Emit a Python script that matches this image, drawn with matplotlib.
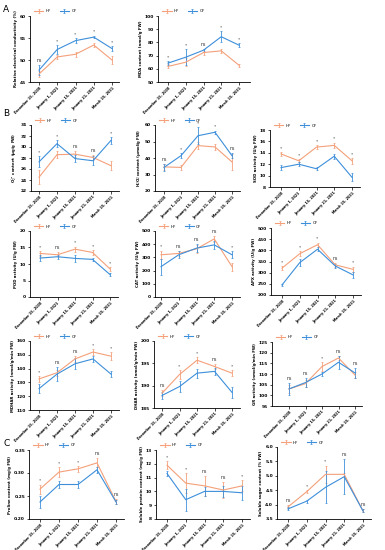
import matplotlib
matplotlib.use("Agg")
import matplotlib.pyplot as plt

plt.rcParams['font.family'] = ['DejaVu Sans']

HF_COLOR = '#F4A07A'
CF_COLOR = '#3D8FDA'

dates = ["December 15, 2020", "January 1, 2021", "January 15, 2021",
         "January 21, 2021", "March 15, 2021"]

# ---- data (means, errors, significance) ----
rec_hf = [46.8, 50.7, 51.3, 53.4, 50.0]
rec_hf_err = [0.6, 0.5, 0.6, 0.5, 0.8]
rec_cf = [47.7, 52.4, 54.4, 55.2, 52.6]
rec_cf_err = [1.2, 1.0, 0.5, 0.3, 0.5]
rec_sig = ["ns", "*", "*", "*", "*"]

mda_hf = [61.8, 65.0, 72.3, 73.6, 62.7]
mda_hf_err = [1.5, 3.0, 1.5, 1.5, 1.0]
mda_cf = [64.3, 68.8, 74.1, 84.3, 77.9]
mda_cf_err = [1.5, 6.0, 1.0, 4.0, 1.5]
mda_sig = ["*", "*", "ns", "*", "*"]

o2_hf = [24.5, 28.6, 28.7, 28.1, 26.6]
o2_hf_err = [1.3, 0.6, 0.6, 0.5, 0.8]
o2_cf = [27.3, 30.6, 27.9, 27.5, 31.2]
o2_cf_err = [1.0, 0.6, 0.7, 0.8, 0.6]
o2_sig = ["*", "*", "ns", "ns", "*"]

h2o2_hf = [34.6, 34.3, 47.5, 46.7, 37.6]
h2o2_hf_err = [2.0, 1.5, 2.0, 2.0, 5.0]
h2o2_cf = [34.3, 41.4, 53.5, 55.6, 41.4]
h2o2_cf_err = [2.0, 1.5, 5.0, 1.0, 1.5]
h2o2_sig = ["ns", "*", "*", "*", "ns"]

sod_hf = [13.8, 12.6, 15.0, 15.3, 12.6]
sod_hf_err = [0.3, 0.3, 0.3, 0.5, 0.5]
sod_cf = [11.4, 12.0, 11.2, 13.4, 9.7]
sod_cf_err = [0.4, 0.3, 0.3, 0.4, 0.7]
sod_sig = ["*", "*", "*", "*", "*"]

pod_hf = [13.2, 12.8, 14.5, 13.5, 8.5]
pod_hf_err = [0.7, 0.7, 0.8, 0.7, 0.5]
pod_cf = [11.8, 12.2, 11.7, 11.4, 6.8]
pod_cf_err = [0.8, 0.6, 1.0, 0.4, 0.5]
pod_sig = ["*", "ns", "*", "*", "*"]

cat_hf = [320, 330, 365, 440, 230]
cat_hf_err = [30, 20, 30, 20, 30]
cat_cf = [230, 320, 370, 395, 320]
cat_cf_err = [60, 25, 30, 30, 25]
cat_sig = ["*", "ns", "ns", "ns", "*"]

apx_hf = [320, 385, 425, 335, 315]
apx_hf_err = [10, 12, 10, 8, 12]
apx_cf = [245, 345, 405, 330, 290]
apx_cf_err = [5, 15, 8, 8, 12]
apx_sig = ["*", "*", "*", "ns", "*"]

mdhar_hf = [132.5, 137.0, 147.0, 152.0, 149.0]
mdhar_hf_err = [2, 2, 2, 2, 3]
mdhar_cf = [125.5, 136.0, 143.5, 147.0, 136.0]
mdhar_cf_err = [3, 5, 4, 2, 2]
mdhar_sig = ["*", "ns", "ns", "*", "*"]

dhar_hf = [188.3, 192.5, 195.7, 194.3, 192.8]
dhar_hf_err = [0.7, 1.0, 0.7, 0.6, 0.6]
dhar_cf = [187.8, 189.8, 192.8, 193.2, 188.5]
dhar_cf_err = [0.8, 1.2, 1.0, 0.7, 1.2]
dhar_sig = ["ns", "*", "*", "ns", "*"]

gr_hf = [103.0, 105.5, 113.5, 117.5, 109.5]
gr_hf_err = [2, 1.5, 2, 1, 1.5]
gr_cf = [103.0, 106.0, 110.0, 115.5, 110.5]
gr_cf_err = [3, 2, 1, 3, 2.5]
gr_sig = ["ns", "ns", "*", "ns", "ns"]

pro_hf = [0.265, 0.302, 0.309, 0.322, 0.238]
pro_hf_err = [0.010, 0.010, 0.006, 0.010, 0.005]
pro_cf = [0.237, 0.275, 0.275, 0.307, 0.237]
pro_cf_err = [0.012, 0.008, 0.008, 0.006, 0.005]
pro_sig = ["*", "*", "*", "ns", "ns"]

prot_hf = [11.9, 10.6, 10.4, 10.1, 10.4]
prot_hf_err = [0.3, 0.7, 0.7, 0.6, 0.4]
prot_cf = [11.3, 9.4, 10.0, 10.0, 9.9]
prot_cf_err = [0.2, 0.8, 0.3, 0.4, 0.5]
prot_sig = ["*", "*", "ns", "ns", "*"]

sug_hf = [3.92, 4.45, 5.05, 5.05, 3.78]
sug_hf_err = [0.05, 0.05, 0.30, 0.05, 0.05]
sug_cf = [3.85, 4.12, 4.60, 4.97, 3.78]
sug_cf_err = [0.05, 0.05, 0.55, 0.60, 0.05]
sug_sig = ["ns", "*", "*", "ns", "ns"]

W, H = 385, 550
fig = plt.figure(figsize=(W / 100, H / 100), dpi=100)


def panel(px, ylim, yticks, ylabel, hf, hf_err, cf, cf_err, sig, fmt="{:g}"):
    # px = (y-axis x, first point x, last point x, right end, top, bottom) in pixels
    x_axis, x0, x4, x_end, top, bottom = px
    ax = fig.add_axes([x_axis / W, 1 - bottom / H, (x_end - x_axis) / W, (bottom - top) / H])
    sp = (x4 - x0) / 4
    ax.set_xlim((x_axis - x0) / sp, 4 + (x_end - x4) / sp)
    xs = range(5)
    ax.errorbar(xs, hf, yerr=hf_err, color=HF_COLOR, lw=0.8, elinewidth=0.6,
                capsize=0.8, capthick=0.5, label="HF")
    ax.errorbar(xs, cf, yerr=cf_err, color=CF_COLOR, lw=0.8, elinewidth=0.6,
                capsize=0.8, capthick=0.5, label="CF")
    ax.set_ylim(*ylim)
    ax.set_yticks(yticks)
    ax.set_yticklabels([fmt.format(t) for t in yticks], fontsize=3.2, fontweight='bold')
    ax.set_xticks(list(xs))
    ax.set_xticklabels(dates, rotation=45, ha='right', rotation_mode='anchor',
                       fontsize=2.4, fontweight='bold')
    ax.set_ylabel(ylabel, fontsize=2.8, fontweight='bold', labelpad=1.5)
    for s in ['top', 'right']:
        ax.spines[s].set_visible(False)
    for s in ['left', 'bottom']:
        ax.spines[s].set_linewidth(0.6)
    ax.tick_params(length=1.8, width=0.5, pad=1)
    rng = ylim[1] - ylim[0]
    for i in xs:
        top_val = max(hf[i] + hf_err[i], cf[i] + cf_err[i])
        fs = 3.4 if sig[i] == "ns" else 3.2
        ax.text(i, top_val + 0.03 * rng, sig[i], ha='center', va='bottom', fontsize=fs,
                color='#333333')
    ax.legend(loc='lower left', bbox_to_anchor=(0.02, 1.0), ncol=2, frameon=False,
              fontsize=3, handlelength=2.2, columnspacing=2.0, borderaxespad=0.2,
              handletextpad=0.6)
    return ax


panel((30, 39, 112, 119, 16, 82), (45, 60), [45, 50, 55, 60],
      "Relative electrical conductivity (%)", rec_hf, rec_hf_err, rec_cf, rec_cf_err, rec_sig)
panel((158, 168, 239, 250, 16, 82), (50, 100), [50, 60, 70, 80, 90, 100],
      "MDA content (nmol/g FW)", mda_hf, mda_hf_err, mda_cf, mda_cf_err, mda_sig)

panel((31, 39, 111, 119, 125, 191), (22, 34), [22, 24, 26, 28, 30, 32, 34],
      r"O$_2^{\cdot-}$ content (μg/g FW)", o2_hf, o2_hf_err, o2_cf, o2_cf_err, o2_sig)
panel((155, 164, 232, 240, 125, 191), (20, 60), [20, 30, 40, 50, 60],
      r"H$_2$O$_2$ content (μmol/g FW)", h2o2_hf, h2o2_hf_err, h2o2_cf, h2o2_cf_err, h2o2_sig)
panel((270, 281, 352, 360, 130, 187), (8, 18), [8, 10, 12, 14, 16, 18],
      "SOD activity (U/g FW)", sod_hf, sod_hf_err, sod_cf, sod_cf_err, sod_sig)

panel((30, 40, 110, 118, 231, 297), (0, 20), [0, 5, 10, 15, 20],
      "POD activity (U/g FW)", pod_hf, pod_hf_err, pod_cf, pod_cf_err, pod_sig)
panel((155, 161, 232, 240, 231, 297), (0, 500), [0, 100, 200, 300, 400, 500],
      "CAT activity (U/g FW)", cat_hf, cat_hf_err, cat_cf, cat_cf_err, cat_sig)
panel((271, 282, 353, 361, 228, 295), (200, 500), [200, 250, 300, 350, 400, 450, 500],
      "APX activity (U/g FW)", apx_hf, apx_hf_err, apx_cf, apx_cf_err, apx_sig)

panel((30, 39, 111, 119, 341, 410), (110, 160), [110, 120, 130, 140, 150, 160],
      "MDHAR activity (nmol/g/min FW)", mdhar_hf, mdhar_hf_err, mdhar_cf, mdhar_cf_err, mdhar_sig)
panel((154, 162, 232, 240, 341, 408), (185, 200), [185, 190, 195, 200],
      "DHAR activity (nmol/g/min FW)", dhar_hf, dhar_hf_err, dhar_cf, dhar_cf_err, dhar_sig)
panel((272, 289, 355, 362, 342, 406), (95, 125), [95, 100, 105, 110, 115, 120, 125],
      "GR activity (nmol/g/min FW)", gr_hf, gr_hf_err, gr_cf, gr_cf_err, gr_sig)

panel((29, 40, 116, 124, 450, 519), (0.20, 0.35), [0.20, 0.25, 0.30, 0.35],
      "Proline content (mg/g FW)", pro_hf, pro_hf_err, pro_cf, pro_cf_err, pro_sig, fmt="{:.2f}")
panel((156, 167, 242, 250, 450, 519), (8, 13), [8, 9, 10, 11, 12, 13],
      "Soluble protein content (mg/g FW)", prot_hf, prot_hf_err, prot_cf, prot_cf_err, prot_sig)
panel((277, 288, 363, 371, 447, 519), (3.5, 6.0), [3.5, 4.0, 4.5, 5.0, 5.5, 6.0],
      "Soluble sugar content (% FW)", sug_hf, sug_hf_err, sug_cf, sug_cf_err, sug_sig, fmt="{:.1f}")

for letter, (x, y) in {"A": (3, 10), "B": (3, 113), "C": (3, 444)}.items():
    fig.text(x / W, 1 - y / H, letter, fontsize=6.5, va='center', ha='left')

fig.savefig("out.png", dpi=100)
